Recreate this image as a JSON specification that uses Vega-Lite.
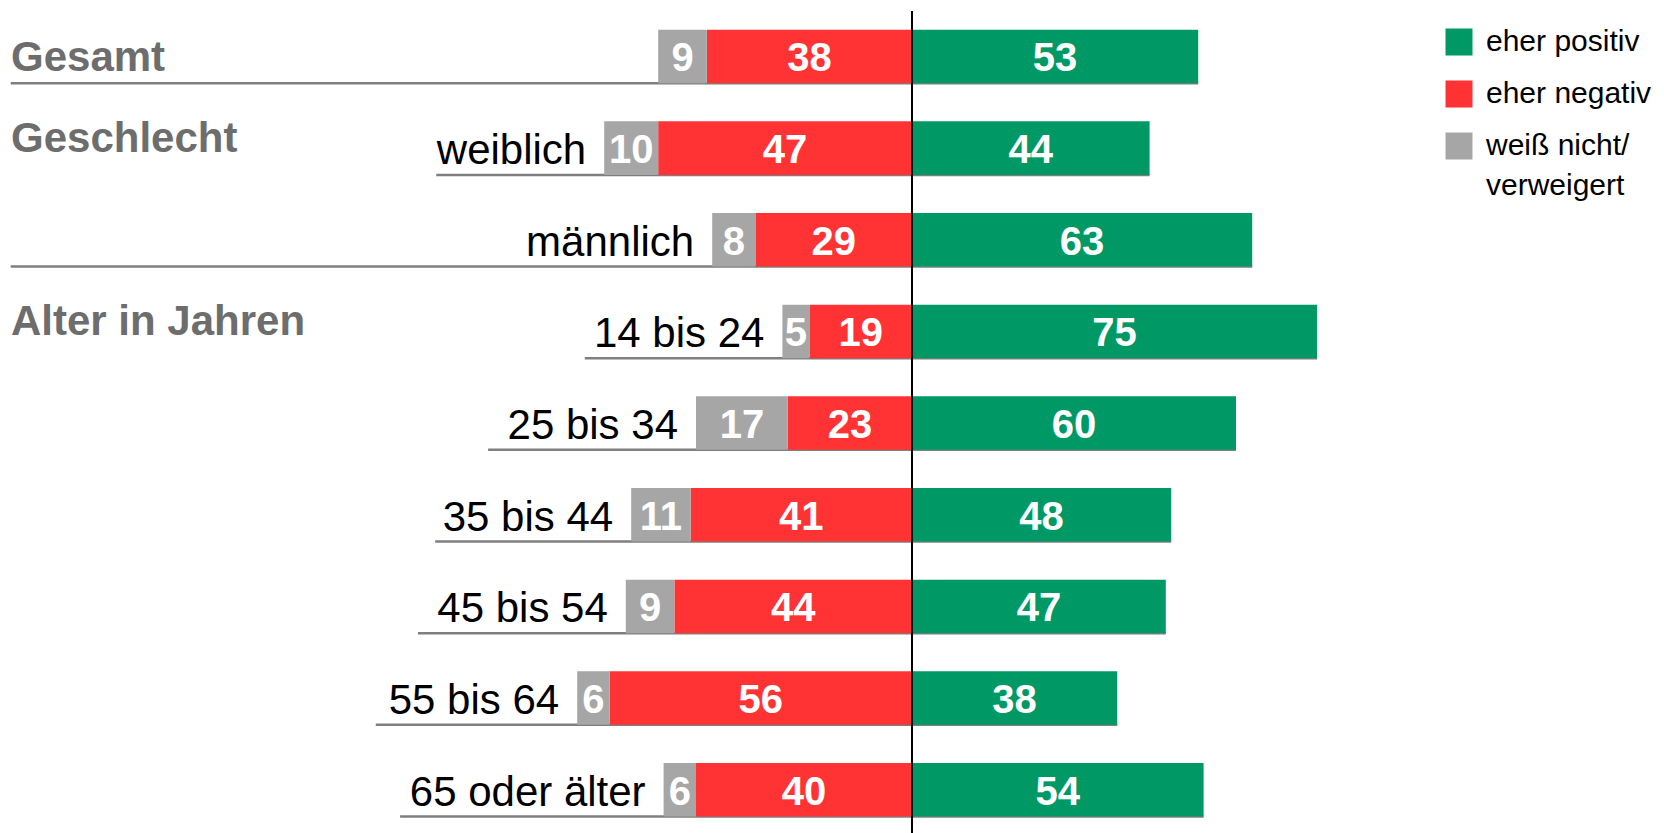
{
  "$schema": "https://vega.github.io/schema/vega-lite/v6.json",
  "width": 1664,
  "height": 833,
  "padding": 0,
  "autosize": {"type": "none"},
  "background": "white",
  "config": {
    "view": {"stroke": null},
    "font": "Liberation Sans",
    "style": {"guide-label": {"lineHeight": 40}}
  },
  "datasets": {
    "shares": [
      {"row": "Gesamt", "cat": "eher positiv", "value": 53},
      {"row": "Gesamt", "cat": "eher negativ", "value": 38},
      {"row": "Gesamt", "cat": "weiß nicht/verweigert", "value": 9},
      {"row": "weiblich", "cat": "eher positiv", "value": 44},
      {"row": "weiblich", "cat": "eher negativ", "value": 47},
      {"row": "weiblich", "cat": "weiß nicht/verweigert", "value": 10},
      {"row": "männlich", "cat": "eher positiv", "value": 63},
      {"row": "männlich", "cat": "eher negativ", "value": 29},
      {"row": "männlich", "cat": "weiß nicht/verweigert", "value": 8},
      {"row": "14 bis 24", "cat": "eher positiv", "value": 75},
      {"row": "14 bis 24", "cat": "eher negativ", "value": 19},
      {"row": "14 bis 24", "cat": "weiß nicht/verweigert", "value": 5},
      {"row": "25 bis 34", "cat": "eher positiv", "value": 60},
      {"row": "25 bis 34", "cat": "eher negativ", "value": 23},
      {"row": "25 bis 34", "cat": "weiß nicht/verweigert", "value": 17},
      {"row": "35 bis 44", "cat": "eher positiv", "value": 48},
      {"row": "35 bis 44", "cat": "eher negativ", "value": 41},
      {"row": "35 bis 44", "cat": "weiß nicht/verweigert", "value": 11},
      {"row": "45 bis 54", "cat": "eher positiv", "value": 47},
      {"row": "45 bis 54", "cat": "eher negativ", "value": 44},
      {"row": "45 bis 54", "cat": "weiß nicht/verweigert", "value": 9},
      {"row": "55 bis 64", "cat": "eher positiv", "value": 38},
      {"row": "55 bis 64", "cat": "eher negativ", "value": 56},
      {"row": "55 bis 64", "cat": "weiß nicht/verweigert", "value": 6},
      {"row": "65 oder älter", "cat": "eher positiv", "value": 54},
      {"row": "65 oder älter", "cat": "eher negativ", "value": 40},
      {"row": "65 oder älter", "cat": "weiß nicht/verweigert", "value": 6}
    ],
    "rows": [
      {"row": "Gesamt", "header": "Gesamt", "lineFrom": -166.9},
      {"row": "weiblich", "header": "Geschlecht", "lineFrom": -88.1},
      {"row": "männlich", "header": null, "lineFrom": -166.9},
      {"row": "14 bis 24", "header": "Alter in Jahren", "lineFrom": -60.6},
      {"row": "25 bis 34", "header": null, "lineFrom": -78.5},
      {"row": "35 bis 44", "header": null, "lineFrom": -88.3},
      {"row": "45 bis 54", "header": null, "lineFrom": -91.5},
      {"row": "55 bis 64", "header": null, "lineFrom": -99.3},
      {"row": "65 oder älter", "header": null, "lineFrom": -94.8}
    ]
  },
  "data": {"name": "shares"},
  "layer": [
    {
      "transform": [
        {"filter": "datum.cat == 'eher positiv'"},
        {"lookup": "row", "from": {"data": {"name": "rows"}, "key": "row", "fields": ["lineFrom"]}}
      ],
      "mark": {"type": "rule", "color": "#7f7f7f", "strokeWidth": 2.5},
      "encoding": {
        "y": {"field": "row", "type": "nominal", "axis": null, "bandPosition": 1,
              "sort": ["Gesamt", "weiblich", "männlich", "14 bis 24", "25 bis 34", "35 bis 44", "45 bis 54", "55 bis 64", "65 oder älter"],
              "scale": {"paddingInner": 0.416, "paddingOuter": 0.252, "align": 0.643}},
        "x": {"field": "lineFrom", "type": "quantitative", "axis": null,
              "scale": {"domain": [-168.889, 139.259], "nice": false, "zero": false}},
        "x2": {"field": "value"}
      }
    },
    {
      "transform": [{"filter": "datum.cat != 'eher positiv'"}],
      "mark": {"type": "bar"},
      "encoding": {
        "y": {"field": "row", "type": "nominal", "axis": null,
              "sort": ["Gesamt", "weiblich", "männlich", "14 bis 24", "25 bis 34", "35 bis 44", "45 bis 54", "55 bis 64", "65 oder älter"]},
        "x": {"field": "value", "type": "quantitative", "stack": "zero", "axis": null,
              "scale": {"domain": [-139.259, 168.889], "reverse": true, "nice": false, "zero": false}},
        "order": {"field": "cat", "sort": "ascending"},
        "color": {"field": "cat", "type": "nominal",
                  "scale": {"domain": ["eher positiv", "eher negativ", "weiß nicht/verweigert"], "range": ["#009966", "#ff3333", "#a6a6a6"]},
                  "legend": {"orient": "none", "legendX": 1444, "legendY": 27, "title": null, "padding": 0,
                             "symbolType": "square", "symbolSize": 729, "symbolStrokeWidth": 0, "symbolOpacity": 1,
                             "labelFontSize": 30, "labelFont": "Liberation Sans", "labelColor": "black",
                             "labelOffset": 12, "rowPadding": 22, "labelLimit": 300, "labelBaseline": "middle",
                             "labelExpr": "datum.label == 'weiß nicht/verweigert' ? ['weiß nicht/', 'verweigert'] : datum.label"}}
      }
    },
    {
      "transform": [{"filter": "datum.cat == 'eher positiv'"}],
      "mark": {"type": "bar"},
      "encoding": {
        "y": {"field": "row", "type": "nominal", "axis": null,
              "sort": ["Gesamt", "weiblich", "männlich", "14 bis 24", "25 bis 34", "35 bis 44", "45 bis 54", "55 bis 64", "65 oder älter"]},
        "x": {"field": "value", "type": "quantitative", "stack": "zero", "axis": null,
              "scale": {"domain": [-168.889, 139.259], "nice": false, "zero": false}},
        "color": {"field": "cat", "type": "nominal"}
      }
    },
    {
      "data": {"values": [{}]},
      "mark": {"type": "rule", "color": "black", "strokeWidth": 2, "yOffset": 11},
      "encoding": {
        "x": {"datum": 0, "type": "quantitative", "axis": null,
              "scale": {"domain": [-168.889, 139.259], "nice": false, "zero": false}}
      }
    },
    {
      "transform": [{"filter": "datum.cat != 'eher positiv'"}],
      "mark": {"type": "text", "color": "white", "fontWeight": "bold", "fontSize": 40, "baseline": "middle", "align": "center", "dy": 3},
      "encoding": {
        "y": {"field": "row", "type": "nominal", "axis": null,
              "sort": ["Gesamt", "weiblich", "männlich", "14 bis 24", "25 bis 34", "35 bis 44", "45 bis 54", "55 bis 64", "65 oder älter"]},
        "x": {"field": "value", "type": "quantitative", "stack": "zero", "bandPosition": 0.5, "axis": null,
              "scale": {"domain": [-139.259, 168.889], "reverse": true, "nice": false, "zero": false}},
        "order": {"field": "cat", "sort": "ascending"},
        "text": {"field": "value", "type": "quantitative"}
      }
    },
    {
      "transform": [{"filter": "datum.cat == 'eher positiv'"}],
      "mark": {"type": "text", "color": "white", "fontWeight": "bold", "fontSize": 40, "baseline": "middle", "align": "center", "dy": 3},
      "encoding": {
        "y": {"field": "row", "type": "nominal", "axis": null,
              "sort": ["Gesamt", "weiblich", "männlich", "14 bis 24", "25 bis 34", "35 bis 44", "45 bis 54", "55 bis 64", "65 oder älter"]},
        "x": {"field": "value", "type": "quantitative", "stack": "zero", "bandPosition": 0.5, "axis": null,
              "scale": {"domain": [-168.889, 139.259], "nice": false, "zero": false}},
        "text": {"field": "value", "type": "quantitative"}
      }
    },
    {
      "transform": [{"filter": "datum.cat != 'eher positiv'"}],
      "mark": {"type": "text", "color": "black", "fontSize": 42, "baseline": "middle", "align": "right", "dx": -18, "dy": 3},
      "encoding": {
        "y": {"field": "row", "type": "nominal", "axis": null,
              "sort": ["Gesamt", "weiblich", "männlich", "14 bis 24", "25 bis 34", "35 bis 44", "45 bis 54", "55 bis 64", "65 oder älter"]},
        "x": {"field": "value", "type": "quantitative", "stack": "zero", "axis": null,
              "scale": {"domain": [-139.259, 168.889], "reverse": true, "nice": false, "zero": false}},
        "order": {"field": "cat", "sort": "ascending"},
        "text": {"condition": {"test": "datum.cat == 'weiß nicht/verweigert' && datum.row != 'Gesamt'", "field": "row"}, "value": ""}
      }
    },
    {
      "data": {"name": "rows"},
      "transform": [{"filter": "datum.header == 'Gesamt'"}],
      "mark": {"type": "text", "color": "#6d6d6d", "fontWeight": "bold", "fontSize": 42, "baseline": "middle", "align": "left", "dx": 11, "dy": 2},
      "encoding": {
        "y": {"field": "row", "type": "nominal", "axis": null,
              "sort": ["Gesamt", "weiblich", "männlich", "14 bis 24", "25 bis 34", "35 bis 44", "45 bis 54", "55 bis 64", "65 oder älter"]},
        "x": {"datum": -168.889, "type": "quantitative", "axis": null,
              "scale": {"domain": [-168.889, 139.259], "nice": false, "zero": false}},
        "text": {"field": "header"}
      }
    },
    {
      "data": {"name": "rows"},
      "transform": [{"filter": "datum.header != null && datum.header != 'Gesamt'"}],
      "mark": {"type": "text", "color": "#6d6d6d", "fontWeight": "bold", "fontSize": 42, "baseline": "middle", "align": "left", "dx": 11, "dy": -9},
      "encoding": {
        "y": {"field": "row", "type": "nominal", "axis": null,
              "sort": ["Gesamt", "weiblich", "männlich", "14 bis 24", "25 bis 34", "35 bis 44", "45 bis 54", "55 bis 64", "65 oder älter"]},
        "x": {"datum": -168.889, "type": "quantitative", "axis": null,
              "scale": {"domain": [-168.889, 139.259], "nice": false, "zero": false}},
        "text": {"field": "header"}
      }
    }
  ],
  "resolve": {"scale": {"x": "independent"}}
}
